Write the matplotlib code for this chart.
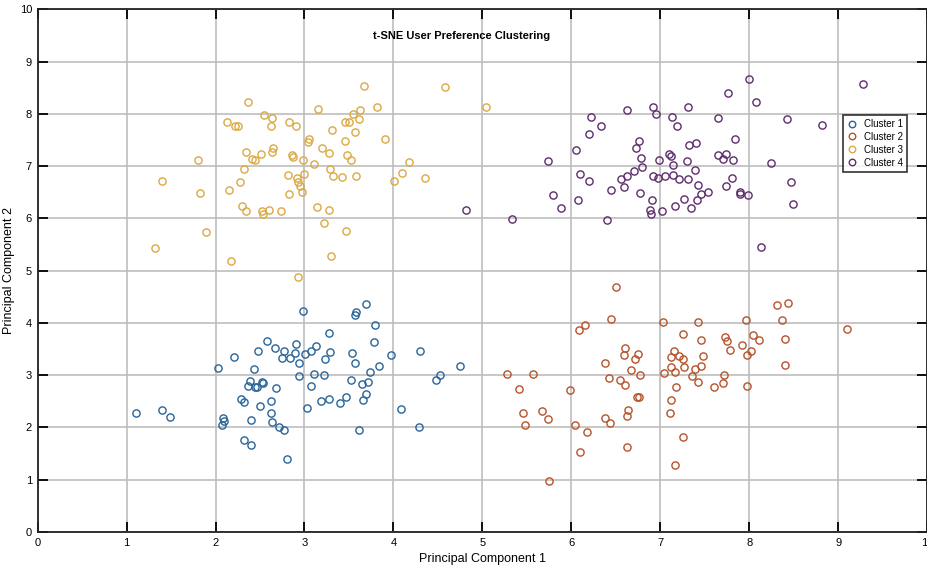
import matplotlib
matplotlib.use("Agg")
import matplotlib.pyplot as plt

plt.rcParams['font.family'] = ['Liberation Sans', 'DejaVu Sans']

c1_x = [1.11, 1.40, 1.49, 2.03, 2.21, 2.08, 2.07, 2.09, 2.32, 2.40, 2.40, 2.29, 2.32, 2.43, 2.48,
        2.58, 2.67, 2.77, 2.75, 2.84, 2.89, 2.91, 2.94, 2.94, 2.39, 2.37, 2.44, 2.47, 2.52, 2.53,
        2.68, 2.50, 2.62, 2.62, 2.63, 2.71, 2.77, 2.80,
        2.98, 3.69, 3.58, 3.57, 3.79, 3.28, 3.78, 3.01, 3.07, 3.13, 3.29, 3.23, 3.53, 3.57, 3.97,
        4.30, 4.75, 4.52, 4.48, 3.84, 3.74, 3.11, 3.22, 3.52, 3.65, 3.71, 3.07, 3.69, 3.66, 3.47,
        3.40, 3.27, 3.19, 3.03, 4.09, 3.61, 4.29]
c1_y = [2.28, 2.33, 2.20, 3.14, 3.34, 2.19, 2.05, 2.13, 1.76, 1.66, 2.14, 2.55, 2.49, 3.12, 3.47,
        3.65, 3.53, 3.47, 3.33, 3.33, 3.42, 3.59, 3.24, 2.98, 2.89, 2.80, 2.78, 2.77, 2.88, 2.86,
        2.75, 2.42, 2.51, 2.27, 2.10, 2.00, 1.96, 1.40,
        4.23, 4.36, 4.21, 4.16, 3.97, 3.81, 3.63, 3.40, 3.47, 3.56, 3.44, 3.31, 3.42, 3.24, 3.38,
        3.47, 3.17, 3.01, 2.90, 3.17, 3.06, 3.02, 3.00, 2.91, 2.83, 2.88, 2.79, 2.64, 2.52, 2.59,
        2.47, 2.55, 2.51, 2.38, 2.36, 1.95, 2.01]

c2_x = [6.50, 6.15, 6.08, 6.45, 7.03, 6.60, 6.59, 6.75, 6.72, 6.38, 6.67, 6.77, 6.42, 6.55, 6.60,
        6.74, 6.76, 6.64, 6.63, 6.38, 6.43, 6.63, 5.28, 5.57, 5.41, 5.98, 5.46, 5.67, 5.74, 5.48,
        6.04, 6.18, 6.10, 5.75, 7.04,
        7.15, 7.12, 7.21, 7.25, 7.27, 7.12, 7.17, 7.18, 7.12, 7.11, 7.25, 7.16, 7.42, 7.26, 7.46,
        7.48, 7.46, 7.39, 7.36, 7.42, 7.60, 7.70, 7.71, 7.73, 7.75, 7.78, 7.92, 7.96, 8.04, 8.11,
        8.02, 7.97, 7.97, 8.31, 8.44, 8.37, 8.40, 8.40, 9.10]
c2_y = [4.69, 3.97, 3.86, 4.07, 4.02, 3.52, 3.39, 3.41, 3.32, 3.23, 3.10, 3.00, 2.95, 2.91, 2.81,
        2.58, 2.59, 2.33, 2.22, 2.18, 2.09, 1.63, 3.03, 3.03, 2.74, 2.72, 2.27, 2.31, 2.17, 2.05,
        2.05, 1.91, 1.54, 0.97, 3.04,
        3.46, 3.34, 3.37, 3.32, 3.16, 3.15, 3.07, 2.77, 2.52, 2.28, 1.82, 1.28, 4.02, 3.79, 3.68,
        3.37, 3.18, 3.11, 2.99, 2.87, 2.77, 2.86, 3.01, 3.74, 3.66, 3.49, 3.58, 4.06, 3.77, 3.68,
        3.47, 3.38, 2.79, 4.35, 4.39, 4.05, 3.70, 3.19, 3.89]

c3_x = [2.37, 2.13, 2.22, 2.25, 2.54, 2.64, 2.62, 2.83, 2.91, 3.15, 3.05, 3.04, 2.34, 2.41, 2.44,
        2.51, 2.65, 2.64, 2.86, 2.87, 2.98, 3.11, 1.80, 1.40, 1.82, 2.32, 2.28, 2.15, 2.81, 2.92,
        3.00, 2.93, 2.95, 2.97, 2.83, 3.14, 2.30, 2.34, 2.52, 2.53, 2.60, 2.74, 1.89, 1.32, 2.17,
        2.93,
        3.67, 4.58, 5.04, 3.62, 3.81, 3.55, 3.61, 3.46, 3.50, 3.31, 3.57, 3.45, 3.91, 3.20, 3.27,
        3.48, 3.52, 4.18, 4.10, 4.35, 4.01, 3.29, 3.32, 3.42, 3.58, 3.27, 3.22, 3.47, 3.30]
c3_y = [8.22, 7.85, 7.77, 7.76, 7.98, 7.92, 7.76, 7.85, 7.76, 8.09, 7.51, 7.46, 7.27, 7.14, 7.11,
        7.23, 7.34, 7.27, 7.21, 7.17, 7.11, 7.04, 7.12, 6.72, 6.48, 6.95, 6.69, 6.55, 6.83, 6.78,
        6.85, 6.70, 6.62, 6.51, 6.47, 6.21, 6.23, 6.14, 6.14, 6.09, 6.16, 6.14, 5.74, 5.44, 5.19,
        4.88,
        8.53, 8.51, 8.13, 8.07, 8.13, 7.99, 7.90, 7.85, 7.85, 7.69, 7.65, 7.48, 7.51, 7.35, 7.25,
        7.22, 7.11, 7.08, 6.86, 6.77, 6.71, 6.94, 6.81, 6.79, 6.82, 6.16, 5.91, 5.76, 5.28]

c4_x = [4.82, 5.33, 5.74, 5.79, 5.88, 6.05, 6.10, 6.07, 6.20, 6.20, 6.22, 6.33, 6.40, 6.44, 6.56,
        6.63, 6.59, 6.70, 6.79, 6.78, 6.73, 6.76, 6.63, 6.77, 6.92, 6.95, 7.13, 7.19, 7.31, 6.99,
        7.10, 7.12, 7.14, 7.30, 7.32, 7.40, 6.92, 6.97, 7.05, 7.14, 7.21, 7.31, 7.39, 7.42, 6.91,
        6.88, 6.89, 7.02, 7.16, 7.27, 7.34, 7.41,
        8.00, 7.76, 8.08, 9.28, 7.65, 8.42, 8.82, 7.84, 7.65, 7.74, 7.70, 7.82, 8.24, 7.80, 7.74,
        7.53, 7.46, 7.89, 7.89, 7.98, 8.47, 8.49, 8.13]
c4_y = [6.16, 5.99, 7.09, 6.45, 6.19, 7.30, 6.85, 6.35, 6.71, 7.61, 7.94, 7.77, 5.97, 6.55, 6.76,
        6.81, 6.60, 6.90, 6.99, 7.16, 7.34, 7.48, 8.08, 6.49, 8.14, 8.00, 7.94, 7.77, 8.13, 7.11,
        7.24, 7.19, 7.03, 7.09, 7.40, 7.44, 6.81, 6.77, 6.81, 6.83, 6.76, 6.75, 6.92, 6.63, 6.35,
        6.17, 6.08, 6.15, 6.23, 6.37, 6.19, 6.35,
        8.66, 8.39, 8.22, 8.57, 7.93, 7.90, 7.78, 7.51, 7.21, 7.23, 7.13, 7.12, 7.06, 6.77, 6.62,
        6.51, 6.47, 6.51, 6.47, 6.44, 6.69, 6.27, 5.46]

labels = ['Cluster 1', 'Cluster 2', 'Cluster 3', 'Cluster 4']
colors = ['#27649a', '#b5532b', '#dca842', '#5e2c6e']
ticks = list(range(0, 11))
tick_labels = [str(t) for t in ticks]

fig = plt.figure(figsize=(9.28, 5.66), dpi=100)
ax = fig.add_axes([0.0405, 0.060, 0.9587, 0.9235])

for xs, ys, lab, col in zip([c1_x, c2_x, c3_x, c4_x], [c1_y, c2_y, c3_y, c4_y], labels, colors):
    ax.plot(xs, ys, linestyle='none', marker='o', markersize=5.2, markerfacecolor='none',
            markeredgecolor=col, markeredgewidth=1.0, label=lab)

ax.set_xlim(0, 10)
ax.set_ylim(0, 10)
ax.set_xticks(ticks)
ax.set_xticklabels(tick_labels)
ax.set_yticks(ticks)
ax.set_yticklabels(tick_labels)
ax.grid(True, color='#bdbdbd', linewidth=1.2)
ax.set_axisbelow(True)
ax.tick_params(direction='in', length=7, width=1.3, top=True, right=True, labelsize=8, pad=4)
for s in ax.spines.values():
    s.set_linewidth(1.3)
    s.set_color('#222222')

ax.set_xlabel('Principal Component 1', fontsize=9, labelpad=4)
ax.set_ylabel('Principal Component 2', fontsize=9)
ax.yaxis.set_label_coords(-0.025, 0.5)
ax.text(0.477, 0.949, 't-SNE User Preference Clustering', transform=ax.transAxes,
        ha='center', va='center', fontsize=8, fontweight='bold')

leg = ax.legend(loc='upper right', bbox_to_anchor=(0.983, 0.807), fontsize=7, frameon=True,
                fancybox=False, edgecolor='black', handlelength=1.0, handletextpad=0.8,
                borderpad=0.4, labelspacing=0.3, markerscale=0.9)
leg.get_frame().set_linewidth(1.2)

fig.savefig('out.png', dpi=100)
